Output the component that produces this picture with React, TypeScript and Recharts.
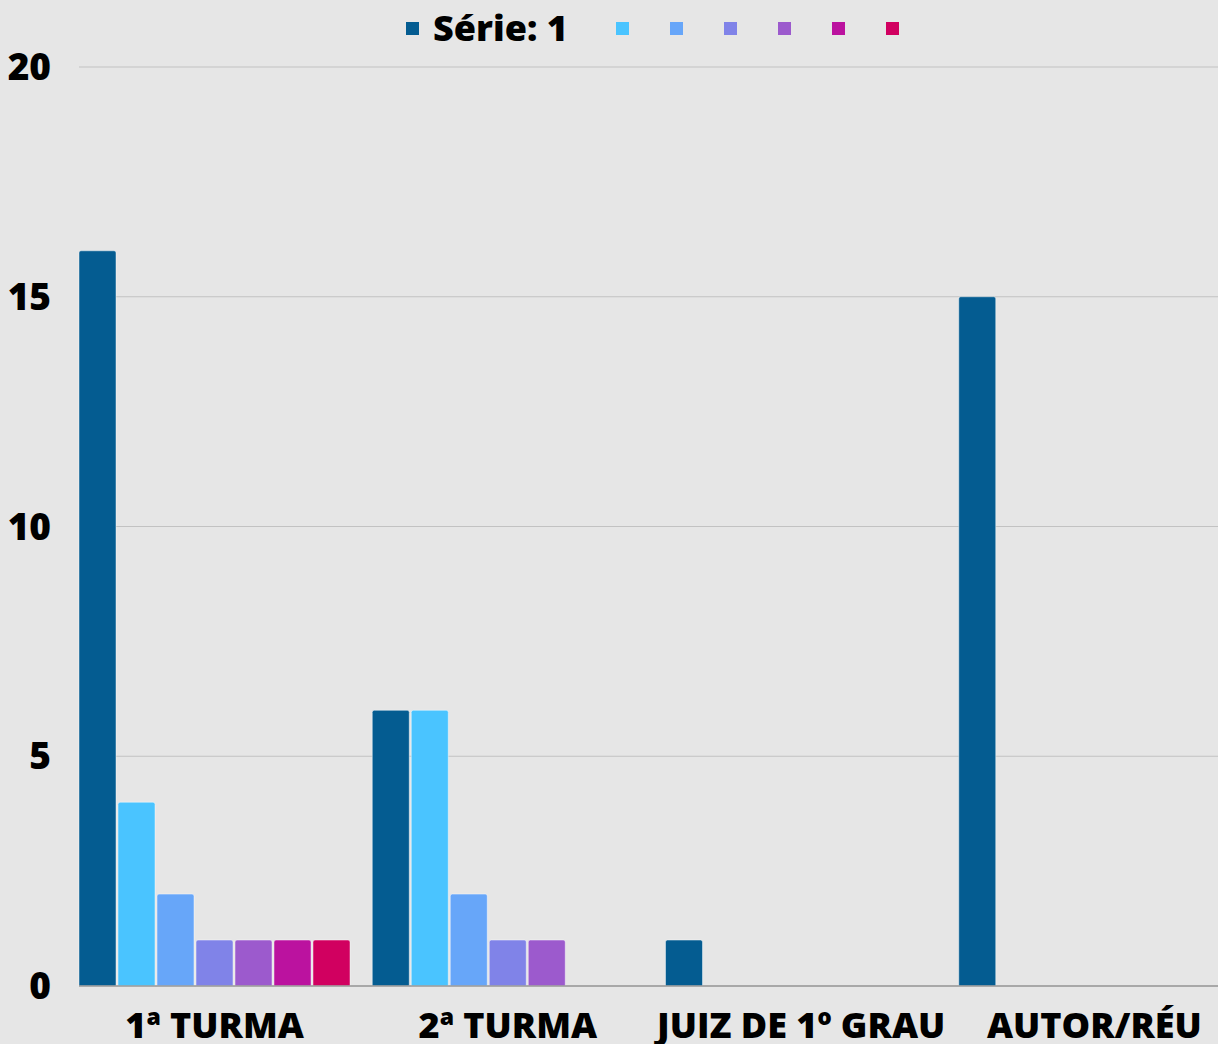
import { BarChart, Bar, XAxis, YAxis, CartesianGrid, Legend } from "recharts";

const categories = ["1ª TURMA", "2ª TURMA", "JUIZ DE 1º GRAU", "AUTOR/RÉU"];
const serie1 = [16, 6, 1, 15];
const serie2 = [4, 6, 0, 0];
const serie3 = [2, 2, 0, 0];
const serie4 = [1, 1, 0, 0];
const serie5 = [1, 1, 0, 0];
const serie6 = [1, 0, 0, 0];
const serie7 = [1, 0, 0, 0];
const seriesLabels = ["Série: 1", "", "", "", "", "", ""];
const yTicks = [0, 5, 10, 15, 20];

const colors = ["#045c91", "#4ac4ff", "#67a6f9", "#8083e8", "#9c5acd", "#bb129f", "#d10060"];
const allSeries = [serie1, serie2, serie3, serie4, serie5, serie6, serie7];

const data = categories.map((name, i) => {
  const row: Record<string, string | number> = { name };
  allSeries.forEach((s, k) => (row["s" + (k + 1)] = s[i]));
  return row;
});

const FONT = "'Open Sans', sans-serif";

function LegendContent({ payload }: any) {
  return (
    <div style={{ display: "flex", alignItems: "center", fontFamily: FONT }}>
      {(payload || []).map((entry: any, i: number) => (
        <div key={i} style={{ display: "flex", alignItems: "center", marginRight: i === 0 ? 48 : 41 }}>
          <span style={{ width: 13, height: 13, background: entry.color, display: "inline-block" }} />
          {seriesLabels[i] ? (
            <span style={{ marginLeft: 14, fontSize: 36, fontWeight: 800, color: "#000", lineHeight: "40px" }}>
              {seriesLabels[i]}
            </span>
          ) : null}
        </div>
      ))}
    </div>
  );
}

export default function App() {
  return (
    <div
      style={{
        position: "absolute",
        left: 0,
        top: 0,
        width: 1218,
        height: 1044,
        overflow: "hidden",
        background: "#e6e6e6",
      }}
    >
      <BarChart
        width={1241}
        height={1044}
        data={data}
        margin={{ top: 67, right: 0, left: 0, bottom: 0 }}
        barCategoryGap={11}
        barGap={2}
      >
        <CartesianGrid horizontal vertical={false} stroke="#c2c2c2" strokeWidth={1.2} />
        <XAxis
          dataKey="name"
          height={58}
          padding={{ left: -11, right: 0 }}
          axisLine={{ stroke: "#9a9a9a", strokeWidth: 1.6 }}
          tickLine={false}
          tickSize={0}
          tickMargin={26}
          interval={0}
          tick={{ fill: "#000", fontSize: 36, fontWeight: 800, fontFamily: FONT }}
        />
        <YAxis
          width={79}
          domain={[0, 20]}
          ticks={yTicks}
          axisLine={false}
          tickLine={false}
          tickSize={0}
          tickMargin={28}
          tick={{ fill: "#000", fontSize: 37, fontWeight: 800, fontFamily: FONT }}
        />
        <Legend
          layout="horizontal"
          verticalAlign="middle"
          align="center"
          content={<LegendContent />}
          wrapperStyle={{ top: 8, left: 406, width: "auto", height: "auto" }}
        />
        {allSeries.map((_, k) => (
          <Bar
            key={k}
            dataKey={"s" + (k + 1)}
            name={seriesLabels[k] || "s" + (k + 1)}
            fill={colors[k]}
            stroke="rgba(255,255,255,0.45)"
            strokeWidth={1}
            radius={[2, 2, 0, 0]}
            isAnimationActive={false}
          />
        ))}
      </BarChart>
    </div>
  );
}
